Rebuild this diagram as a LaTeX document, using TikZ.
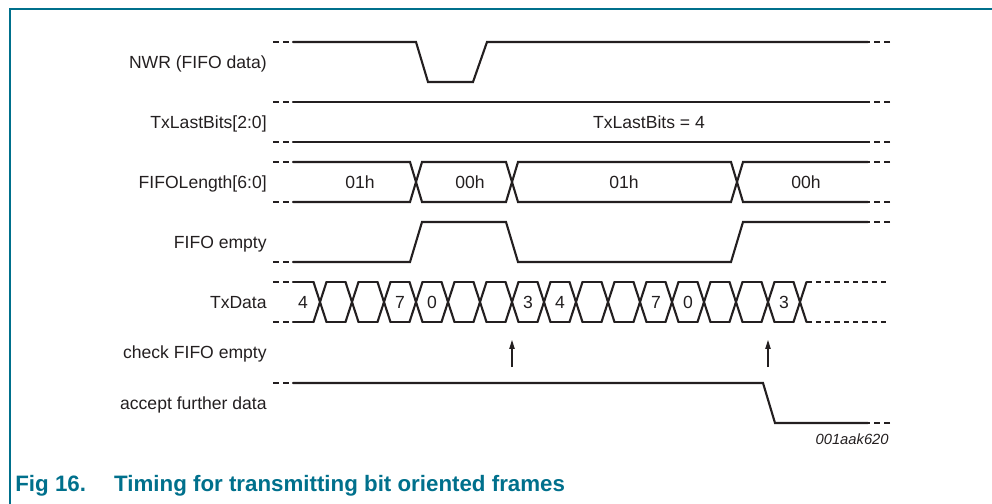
\documentclass[tikz,border=0pt]{standalone}
\usepackage{fontspec}
\setmainfont{Liberation Sans}
\usetikzlibrary{arrows.meta}
\definecolor{ink}{RGB}{35,31,32}
\definecolor{nxpteal}{RGB}{0,112,140}

\begin{document}
\begin{tikzpicture}[x=0.02cm,y=-0.02cm,
    wave/.style={ink,line width=1.2pt,line cap=round},
    tail/.style={ink,line width=1.2pt,dash pattern=on 3.4pt off 2.3pt},
    sig/.style={ink,anchor=east,inner sep=0pt,text height=7.2pt,text depth=0pt,font=\fontsize{10}{12}\selectfont},
    val/.style={ink,inner sep=0pt,text height=7.2pt,text depth=0pt,font=\fontsize{10}{12}\selectfont},
    chk/.style={ink,line width=0.6pt,-{Triangle[length=5pt,width=3pt]}}]
    \useasboundingbox (0,0) rectangle (992,504);
    \draw[nxpteal,line width=0.8pt] (10,504)--(10,9)--(992,9);
    \foreach \y in {42,102,142,162,202,262,282,322,383}
        \draw[tail] (273,\y)--(293,\y);
    \foreach \y in {42,102,142,162,202,222,423}
        \draw[tail] (890,\y)--(868,\y);
    \draw (267,62)node[sig](nwr){NWR (FIFO data)};
    \draw[wave] (293,42)--(416,42)--(428,82)--(473,82)--(487,42)--(868,42);
    \draw (267,122)node[sig](lastbits){TxLastBits[2:0]};
    \draw[wave] (293,102)--(868,102) (293,142)--(868,142);
    \draw (649,122)node[val](lastval){TxLastBits = 4};
    \draw (267,182)node[sig](fifolen){FIFOLength[6:0]};
    \draw[wave] (293,162)--(410,162)--(422,202)--(506,202)--(518,162)--(731,162)--(743,202)--(868,202);
    \draw[wave] (293,202)--(410,202)--(422,162)--(506,162)--(518,202)--(731,202)--(743,162)--(868,162);
    \draw (360,182)node[val](len1){01h} (470,182)node[val](len2){00h}
        (624,182)node[val](len3){01h} (806,182)node[val](len4){00h};
    \draw (267,242)node[sig](empty){FIFO empty};
    \draw[wave] (293,262)--(410,262)--(422,222)--(506,222)--(518,262)--(731,262)--(743,222)--(868,222);
    \draw (267,302)node[sig](txdata){TxData};
    \draw[wave] (293,282)--(313.5,282) (293,322)--(313.5,322);
    \foreach \c in {320,352,...,800}
        \draw[wave] (\c-6.5,282)--(\c+6.5,322) (\c-6.5,322)--(\c+6.5,282);
    \foreach \c in {320,352,...,768}
        \draw[wave] (\c+6.5,282)--(\c+25.5,282) (\c+6.5,322)--(\c+25.5,322);
    \draw[ink,line width=1.2pt,dash pattern=on 3pt off 2.3pt] (806.5,282)--(890,282) (806.5,322)--(890,322);
    \foreach \c/\v [count=\i] in {303/4,400/7,432/0,528/3,560/4,656/7,688/0,784/3}
        \draw (\c,302)node[val](bit\i){\v};
    \draw (267,352)node[sig](check){check FIFO empty};
    \draw[chk] (512,367)--(512,340);
    \draw[chk] (768,367)--(768,340);
    \draw (267,403)node[sig](accept){accept further data};
    \draw[wave] (293,383)--(763,383)--(775,423)--(868,423);
    \draw (889,439)node[ink,anchor=east,inner sep=0pt,text height=6pt,text depth=0pt,font=\fontsize{8.4}{10}\selectfont\itshape](figid){001aak620};
    \draw (15,491)node[anchor=base west,inner sep=0pt,nxpteal,font=\fontsize{12.7}{15}\selectfont\bfseries](caption){Fig 16.\hspace{16pt}Timing for transmitting bit oriented frames};
\end{tikzpicture}
\end{document}
